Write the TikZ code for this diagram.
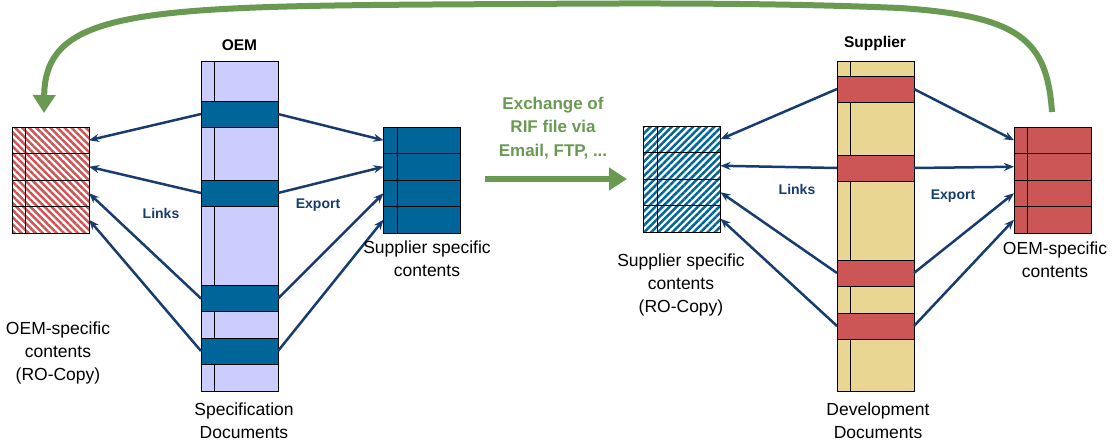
\documentclass[tikz,border=0pt]{standalone}
\usepackage{fontspec}
\setmainfont{Liberation Sans}
\usetikzlibrary{positioning,arrows.meta,patterns.meta}
\definecolor{oemband}{RGB}{0,102,153}
\definecolor{oemfill}{RGB}{204,204,255}
\definecolor{supband}{RGB}{204,85,85}
\definecolor{supfill}{RGB}{232,214,146}
\definecolor{linkblue}{RGB}{24,60,110}
\definecolor{xgreen}{RGB}{106,154,82}

\begin{document}
\begin{tikzpicture}
  [x=1pt, y=-1pt,
   doc/.style={rectangle, draw, line width=1pt, minimum width=77pt, minimum height=330pt, inner sep=0pt, outer sep=0pt},
   band/.style={rectangle, draw, line width=1pt, minimum width=77pt, minimum height=26pt, inner sep=0pt, outer sep=0pt},
   cell/.style={rectangle, draw, line width=1pt, minimum width=77pt, minimum height=26.5pt, inner sep=0pt, outer sep=0pt},
   redhatch/.style={pattern={Lines[angle=-45,distance=5pt,line width=2.5pt]}, pattern color=supband},
   bluehatch/.style={pattern={Lines[angle=45,distance=5pt,line width=2.5pt]}, pattern color=oemband},
   link/.style={draw=linkblue, line width=2.5pt, -{Stealth[length=10pt,width=8pt]}},
   bigarrow/.style={draw=xgreen, line width=6pt, -{Triangle[length=18pt,width=22pt]}},
   caption/.style={align=center, inner sep=0pt, font=\fontsize{17.5}{23}\selectfont},
   tag/.style={inner sep=0pt, text=linkblue, font=\bfseries\fontsize{14}{16}\selectfont},
   title/.style={inner sep=0pt, font=\bfseries\fontsize{15.5}{18}\selectfont}]
  \useasboundingbox (0,0) rectangle (1119,445);

  % OEM side
  \node[doc, fill=oemfill] (specdoc) at (239.5,226) {};
  \draw[line width=1pt] ([xshift=13pt]specdoc.north west) -- ([xshift=13pt]specdoc.south west);
  \foreach \y [count=\i] in {114,193,298.5,351}
    \node[band, fill=oemband] (ob\i) at (239.5,\y) {};

  \node[cell, redhatch] (oc1) at (50.5,140.25) {};
  \node[cell, fill=oemband] (sc1) at (422,140.25) {};
  \foreach \i [count=\j from 2] in {1,2,3} {
    \node[cell, redhatch, below=0pt of oc\i] (oc\j) {};
    \node[cell, fill=oemband, below=0pt of sc\i] (sc\j) {};
  }
  \draw[line width=1pt] ([xshift=13pt]oc1.north west) -- ([xshift=13pt]oc4.south west);
  \draw[line width=1pt] ([xshift=14pt]sc1.north west) -- ([xshift=14pt]sc4.south west);

  \foreach \i in {1,...,4} {
    \draw[link] (ob\i.west) -- (oc\i.east);
    \draw[link] (ob\i.east) -- (sc\i.west);
  }

  % Supplier side
  \node[doc, fill=supfill] (devdoc) at (875.5,226) {};
  \draw[line width=1pt] ([xshift=13pt]devdoc.north west) -- ([xshift=13pt]devdoc.south west);
  \foreach \y [count=\i] in {89,168,273,326}
    \node[band, fill=supband] (sb\i) at (875.5,\y) {};

  \node[cell, bluehatch] (rc1) at (682,139.25) {};
  \node[cell, fill=supband] (ec1) at (1052.5,140.25) {};
  \foreach \i [count=\j from 2] in {1,2,3} {
    \node[cell, bluehatch, below=0pt of rc\i] (rc\j) {};
    \node[cell, fill=supband, below=0pt of ec\i] (ec\j) {};
  }
  \draw[line width=1pt] ([xshift=14pt]rc1.north west) -- ([xshift=14pt]rc4.south west);
  \draw[line width=1pt] ([xshift=13pt]ec1.north west) -- ([xshift=13pt]ec4.south west);

  \foreach \i in {1,...,4} {
    \draw[link] (sb\i.west) -- (rc\i.east);
    \draw[link] (sb\i.east) -- (ec\i.west);
  }

  % exchange arrows
  \coordinate (xa) at (485,179);
  \coordinate (xb) at (627,179);
  \draw[bigarrow] (xa) -- (xb);
  \coordinate (backstart) at (1052,112);
  \coordinate (backend) at (44,113);
  \draw[bigarrow] (backstart) .. controls (1047,40) and (1020,16) .. (900,8)
    .. controls (780,3) and (650,3) .. (520,4)
    .. controls (150,6) and (45,5) .. (backend);

  % texts
  \node[title] (oemtitle) at (239.5,45) {OEM};
  \node[title] (suptitle) at (875,43) {Supplier};
  \node[tag] (links1) at (161,213) {Links};
  \node[tag] (export1) at (318,205) {Export};
  \node[tag] (links2) at (797,189) {Links};
  \node[tag] (export2) at (953,196) {Export};
  \node[caption, text=xgreen, font=\bfseries\fontsize{17}{23.5}\selectfont] (xtext) at (553,128) {Exchange of\\RIF file via\\Email, FTP, ...};
  \node[caption] (oemcopy) at (58,353) {OEM-specific\\contents\\(RO-Copy)};
  \node[caption] (spectext) at (244,421) {Specification\\Documents};
  \node[caption] (supcont) at (427,259) {Supplier specific\\contents};
  \node[caption] (supcopy) at (681,285) {Supplier specific\\contents\\(RO-Copy)};
  \node[caption] (devtext) at (878,421) {Development\\Documents};
  \node[caption] (oemcont) at (1055,260) {OEM-specific\\contents};
\end{tikzpicture}
\end{document}
